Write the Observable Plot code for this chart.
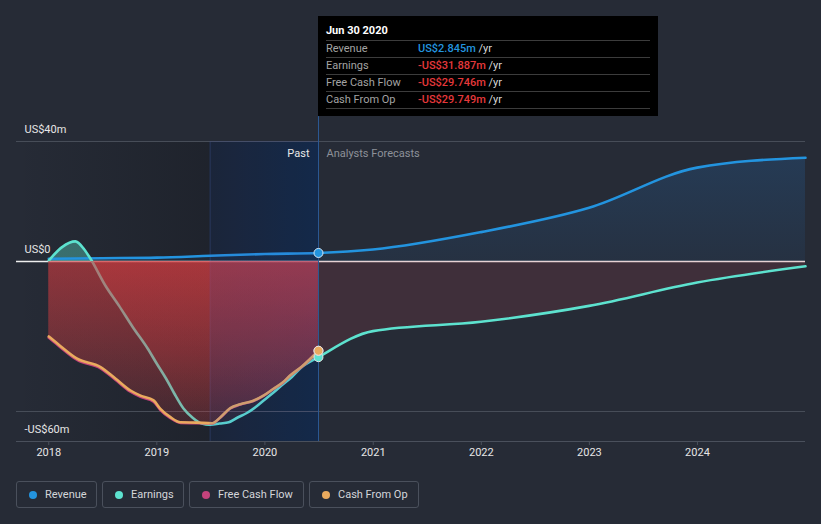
<!DOCTYPE html>
<html><head><meta charset="utf-8">
<script src="https://cdn.jsdelivr.net/npm/d3@7"></script>
<script src="https://cdn.jsdelivr.net/npm/@observablehq/plot@0.6"></script>
<style>
html,body{margin:0;padding:0;background:#262b36;}
body{width:821px;height:524px;overflow:hidden;font-family:Roboto,"Open Sans",sans-serif;position:relative;}
#chart{position:absolute;left:0;top:0;}
#tip{position:absolute;top:16px;width:340px;height:100px;background:#000;font-size:11px;}
#tip .t{position:absolute;left:8px;top:8px;color:#fff;font-weight:700;font-size:11px;line-height:14px;}
#tip .sep{position:absolute;left:8px;width:324px;height:1px;background:#3c3c3c;}
#tip .lab{position:absolute;left:8px;color:#a3a3a3;line-height:14px;}
#tip .val{position:absolute;left:100px;line-height:14px;font-weight:500;}
#tip .yr{color:#d8d8d8;font-weight:400;}
#legend{position:absolute;left:16px;top:481px;display:flex;gap:5px;}
.item{height:27px;box-sizing:border-box;border:1px solid #4a505c;border-radius:3px;display:flex;align-items:center;padding-left:12px;color:#d4d6da;font-size:11px;}
.dot{width:8px;height:8px;border-radius:50%;margin-right:8px;flex:none;}
</style></head>
<body>
<div id="chart"></div>
<div id="tip"></div>
<div id="legend"></div>
<script>
// ---- data (US$ millions) ----
const revDates = ["2018-01-01","2018-07-01","2019-01-01","2019-07-01","2020-01-01","2020-06-30","2020-12-31","2021-12-31","2022-12-31","2023-12-31","2024-12-31"];
const revValues = [0.9, 1.1, 1.3, 1.9, 2.5, 2.845, 4.0, 9.8, 17.9, 31.3, 34.6];

const earnPastDates = ["2018-01-01","2018-02-15","2018-04-01","2018-05-01","2018-05-22","2018-07-11","2018-08-26","2018-10-12","2018-12-01","2019-01-01","2019-02-01","2019-03-01","2019-04-01","2019-05-01","2019-06-01","2019-07-01","2019-08-01","2019-09-01","2019-10-01","2019-11-01","2019-12-01","2020-01-01","2020-02-01","2020-03-01","2020-04-01","2020-05-01","2020-06-30"];
const earnPastValues = [0.3, 4.8, 6.7, 4.0, 0.9, -8.0, -14.7, -21.9, -29.0, -34.1, -39.0, -44.0, -49.0, -52.0, -54.0, -54.4, -54.0, -53.6, -52.0, -50.5, -48.5, -46.0, -43.5, -41.0, -38.5, -35.5, -31.887];
const earnFcDates = ["2020-06-30","2020-12-31","2021-12-31","2022-12-31","2023-12-31","2024-12-31"];
const earnFcValues = [-31.887, -23.2, -20.1, -14.8, -7.0, -1.6];

const cashDates = ["2018-01-01","2018-02-01","2018-04-07","2018-06-25","2018-08-14","2018-10-04","2018-11-07","2018-12-21","2019-01-13","2019-02-16","2019-03-22","2019-05-15","2019-07-07","2019-08-04","2019-09-06","2019-10-10","2019-11-23","2019-12-27","2020-01-30","2020-03-03","2020-03-26","2020-05-05","2020-06-30"];
const fcfValues = [-25.4, -27.9, -32.8, -35.6, -39.4, -43.4, -45.1, -46.7, -49.5, -52.2, -53.8, -53.9, -54.0, -52.0, -49.0, -47.7, -46.5, -44.8, -42.5, -40.3, -38.1, -35.1, -29.746];
const cfoValues = [-25.0, -27.5, -32.4, -35.2, -39.0, -43.0, -44.7, -46.3, -49.1, -51.9, -53.6, -53.7, -53.9, -51.9, -48.9, -47.6, -46.4, -44.7, -42.4, -40.2, -38.0, -35.0, -29.749];

const xTickYears = [2018, 2019, 2020, 2021, 2022, 2023, 2024];
const yLabelTicks = [40, 0, -60];
const yLabelTexts = ["US$40m", "US$0", "-US$60m"];
const yGridTicks = [40, -50];
const seriesNames = ["Revenue", "Earnings", "Free Cash Flow", "Cash From Op"];
const seriesColors = ["#2394df", "#5de2cf", "#c4437c", "#e9aa5e"];
const tooltipDate = "Jun 30 2020";

// ---- build ----
const parse = d3.utcParse("%Y-%m-%d");
const zip = (ds, vs) => ds.map((d, i) => ({date: parse(d), value: vs[i]}));
const revenue = zip(revDates, revValues);
const earnPast = zip(earnPastDates, earnPastValues);
const earnFc = zip(earnFcDates, earnFcValues);
const earnAll = earnPast.concat(earnFc.slice(1));
const fcf = zip(cashDates, fcfValues);
const cfo = zip(cashDates, cfoValues);
const xDomain = [parse("2017-09-14"), parse("2024-12-31")];
const now = parse("2020-06-30");
const hlStart = parse("2019-06-30");
const atNow = a => a.find(d => +d.date === +now);
const yearTicks = xTickYears.map(y => new Date(Date.UTC(y, 0, 1)));
const fmtM = v => (v < 0 ? "-" : "") + "US$" + Math.abs(v) + "m";
const yLabels = yLabelTicks.map((v, i) => ({v, t: yLabelTexts[i]}));
const curve = "monotone-x";
const lw = 2.6;

const plot = Plot.plot({
  width: 821, height: 470,
  marginTop: 141, marginBottom: 29, marginLeft: 16, marginRight: 16,
  x: {type: "utc", domain: xDomain},
  y: {domain: [-60, 40], axis: null},
  style: {background: "transparent", color: "#e6e6e6", fontFamily: "Roboto, sans-serif", fontSize: "11px", overflow: "visible"},
  marks: [
    Plot.rect([{a: xDomain[0], b: hlStart}], {x1: "a", x2: "b", y1: -60, y2: 40, fill: "url(#pastGrad)"}),
    Plot.rect([{a: hlStart, b: now}], {x1: "a", x2: "b", y1: -60, y2: 40, fill: "url(#hlGrad)"}),
    Plot.ruleX([hlStart], {y1: -60, y2: 40, stroke: "#26344c", strokeWidth: 1}),
    Plot.ruleY(yGridTicks, {stroke: "#474d58", strokeWidth: 1}),
    Plot.ruleY([-60], {stroke: "#4a505c", strokeWidth: 1}),
    Plot.ruleY([0], {stroke: "#eeeeee", strokeWidth: 1.3}),
    Plot.areaY(revenue, {x: "date", y1: 0, y2: "value", fill: "url(#revGrad)", curve}),
    Plot.areaY(earnPast, {x: "date", y1: 0, y2: "value", fill: "url(#earnGrad)", curve}),
    Plot.areaY(earnFc, {x: "date", y1: 0, y2: "value", fill: "rgb(200,70,80)", fillOpacity: 0.16, curve}),
    Plot.lineY(revenue, {x: "date", y: "value", stroke: seriesColors[0], strokeWidth: lw, curve}),
    Plot.lineY(earnAll, {x: "date", y: "value", stroke: seriesColors[1], strokeWidth: lw, curve}),
    Plot.areaY(fcf, {x: "date", y1: 0, y2: "value", fill: "url(#redGrad)", curve}),
    Plot.areaY(cfo, {x: "date", y1: 0, y2: "value", fill: "url(#redGrad)", curve}),
    Plot.lineY(fcf, {x: "date", y: "value", stroke: seriesColors[2], strokeWidth: lw, curve}),
    Plot.lineY(cfo, {x: "date", y: "value", stroke: seriesColors[3], strokeWidth: lw, curve}),
    Plot.rect([{a: hlStart, b: now}], {x1: "a", x2: "b", y1: -60, y2: 40, fill: "rgb(60,90,200)", fillOpacity: 0.15}),
    Plot.ruleX([now], {y1: -60, y2: 48.3, stroke: "#2c5a96", strokeWidth: 1}),
    Plot.dot([atNow(revenue)], {x: "date", y: "value", r: 4.5, fill: seriesColors[0], stroke: "#d6e6f5", strokeWidth: 1}),
    Plot.dot([atNow(earnPast)], {x: "date", y: "value", r: 4.5, fill: seriesColors[1], stroke: "#e6e6e6", strokeWidth: 1}),
    Plot.dot([atNow(fcf)], {x: "date", y: "value", r: 4.5, fill: seriesColors[2], stroke: "#e6e6e6", strokeWidth: 1}),
    Plot.dot([atNow(cfo)], {x: "date", y: "value", r: 4.5, fill: seriesColors[3], stroke: "#e6e6e6", strokeWidth: 1}),
    Plot.text(["Past"], {x: now, y: 40, text: d => d, dx: -9, dy: 12, textAnchor: "end", fill: "#e8e8e8", fontSize: 11}),
    Plot.text(["Analysts Forecasts"], {x: now, y: 40, text: d => d, dx: 8, dy: 12, textAnchor: "start", fill: "#8d9199", fontSize: 11}),
    Plot.text(yLabels, {x: xDomain[0], y: "v", text: "t", dx: 8, dy: -12, textAnchor: "start", fill: "#e6e6e6", fontSize: 11}),
    Plot.axisX({ticks: yearTicks, tickFormat: "%Y", tickSize: 4, tickPadding: 3, stroke: "#4a505c", fill: "#e6e6e6", fontSize: 11})
  ]
});

// gradients
const ys = plot.scale("y");
const y0 = ys.apply(0), yTop = ys.apply(40), yBot = ys.apply(-60);
const svg = d3.select(plot);
const defs = svg.insert("defs", ":first-child");
function grad(id, attrs, stops) {
  const g = defs.append("linearGradient").attr("id", id);
  for (const k in attrs) g.attr(k, attrs[k]);
  for (const s of stops) g.append("stop").attr("offset", s[0]).attr("stop-color", s[1]).attr("stop-opacity", s[2]);
}
grad("pastGrad", {x1: 0, x2: 1, y1: 0, y2: 0}, [[0, "rgb(10,12,16)", 0], [1, "rgb(10,12,16)", 0.26]]);
grad("hlGrad", {x1: 0, x2: 1, y1: 0, y2: 0}, [[0, "rgb(22,29,33)", 1], [1, "rgb(13,33,52)", 1]]);
grad("redGrad", {gradientUnits: "userSpaceOnUse", x1: 0, x2: 0, y1: y0, y2: yBot}, [[0, "rgb(210,60,64)", 0.38], [1, "rgb(210,60,64)", 0.06]]);
const zOff = (y0 - yTop) / (yBot - yTop);
grad("earnGrad", {gradientUnits: "userSpaceOnUse", x1: 0, x2: 0, y1: yTop, y2: yBot}, [[0, "rgb(92,224,204)", 0.38], [zOff, "rgb(92,224,204)", 0.38], [zOff, "rgb(210,60,64)", 0.38], [1, "rgb(210,60,64)", 0.06]]);
grad("revGrad", {gradientUnits: "userSpaceOnUse", x1: 0, x2: 0, y1: yTop, y2: y0}, [[0, "rgb(35,130,223)", 0.2], [1, "rgb(35,130,223)", 0.07]]);

document.getElementById("chart").appendChild(plot);

// tooltip
const xs = plot.scale("x");
const tip = document.getElementById("tip");
tip.style.left = xs.apply(now) + "px";
const tipVals = [atNow(revenue).value, atNow(earnPast).value, atNow(fcf).value, atNow(cfo).value];
let html = `<div class="t">${tooltipDate}</div>`;
const sepY = [24, 41, 58, 75, 92];
sepY.forEach(y => html += `<div class="sep" style="top:${y}px"></div>`);
seriesNames.forEach((n, i) => {
  const top = 26 + i * 17;
  const col = tipVals[i] < 0 ? "#e5383b" : "#2394df";
  html += `<div class="lab" style="top:${top}px">${n}</div>`;
  html += `<div class="val" style="top:${top}px;color:${col}">${fmtM(tipVals[i])}&nbsp;<span class="yr">/yr</span></div>`;
});
tip.innerHTML = html;

// legend
const widths = [81, 82, 115, 110];
const legend = document.getElementById("legend");
seriesNames.forEach((n, i) => {
  const it = document.createElement("div");
  it.className = "item";
  it.style.width = widths[i] + "px";
  it.innerHTML = `<span class="dot" style="background:${seriesColors[i]}"></span><span>${n}</span>`;
  legend.appendChild(it);
});
</script>
</body></html>
